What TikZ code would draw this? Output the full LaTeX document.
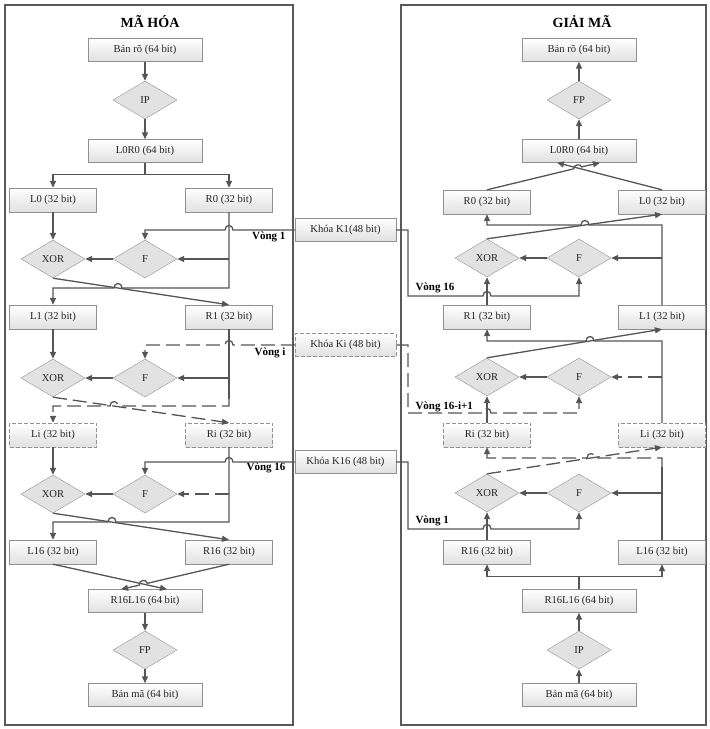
\documentclass[tikz,border=0pt]{standalone}
\usepackage{fontspec}
\setmainfont{Liberation Serif}
\usetikzlibrary{shapes.geometric,arrows.meta}
\definecolor{lncol}{RGB}{85,85,85}
\definecolor{bdcol}{RGB}{145,145,145}
\definecolor{dfill}{RGB}{226,226,226}
\begin{document}
\begin{tikzpicture}[x=1pt,y=-1pt,
    every node/.style={font=\fontsize{10.6}{12}\selectfont,text=black!85},
    box/.style={rectangle,draw=bdcol,top color=white,bottom color=black!12,minimum width=87pt,minimum height=24pt,inner sep=0pt},
    wbox/.style={box,minimum width=114pt,minimum height=23pt},
    kbox/.style={box,minimum width=101pt,minimum height=23pt},
    dbox/.style={dash pattern=on 4pt off 2pt},
    dia/.style={diamond,draw=bdcol,fill=dfill,minimum width=64pt,minimum height=38pt,inner sep=0pt},
    lbl/.style={font=\fontsize{11}{12}\bfseries\selectfont,text=black},
    ttl/.style={font=\fontsize{14}{16}\bfseries\selectfont,text=black},
    arr/.style={draw=lncol,line width=1.3pt,-{Triangle[length=7pt,width=6pt]}},
    ln/.style={draw=lncol,line width=1.3pt},
    dsh/.style={dash pattern=on 14pt off 6pt}]
    \useasboundingbox (0,0) rectangle (710,729);

    \draw[black!65,line width=1.6pt] (5,5) rectangle (293,725);
    \draw[black!65,line width=1.6pt] (401,5) rectangle (706,725);
    \node[ttl] (T1) at (150,22) {MÃ HÓA};
    \node[ttl] (T2) at (582,22) {GIẢI MÃ};

    % ma hoa
    \node[wbox] (P1) at (145,50) {Bản rõ (64 bit)};
    \node[dia] (IP1) at (145,100) {IP};
    \node[wbox] (LR1) at (145,151) {L0R0 (64 bit)};
    \node[box] (L0) at (53,200) {L0 (32 bit)};
    \node[box] (R0) at (229,200) {R0 (32 bit)};
    \node[dia] (X1) at (53,259) {XOR};
    \node[dia] (F1) at (145,259) {F};
    \node[box] (L1) at (53,317) {L1 (32 bit)};
    \node[box] (R1) at (229,317) {R1 (32 bit)};
    \node[dia] (X2) at (53,378) {XOR};
    \node[dia] (F2) at (145,378) {F};
    \node[box,dbox] (Li) at (53,435) {Li (32 bit)};
    \node[box,dbox] (Ri) at (229,435) {Ri (32 bit)};
    \node[dia] (X3) at (53,494) {XOR};
    \node[dia] (F3) at (145,494) {F};
    \node[box] (L16) at (53,552) {L16 (32 bit)};
    \node[box] (R16) at (229,552) {R16 (32 bit)};
    \node[wbox] (RL1) at (145,601) {R16L16 (64 bit)};
    \node[dia] (FP1) at (145,650) {FP};
    \node[wbox] (C1) at (145,695) {Bản mã (64 bit)};

    % khoa
    \node[kbox] (K1) at (345.5,230) {Khóa K1(48 bit)};
    \node[kbox,dbox] (Ki) at (345.5,345) {Khóa Ki (48 bit)};
    \node[kbox] (K16) at (345.5,462) {Khóa K16 (48 bit)};

    % giai ma
    \node[wbox] (P2) at (579,50) {Bản rõ (64 bit)};
    \node[dia] (FP2) at (579,100) {FP};
    \node[wbox] (LR2) at (579,151) {L0R0 (64 bit)};
    \node[box] (R0b) at (487,202) {R0 (32 bit)};
    \node[box] (L0b) at (662,202) {L0 (32 bit)};
    \node[dia] (X4) at (487,258) {XOR};
    \node[dia] (F4) at (579,258) {F};
    \node[box] (R1b) at (487,317) {R1 (32 bit)};
    \node[box] (L1b) at (662,317) {L1 (32 bit)};
    \node[dia] (X5) at (487,377) {XOR};
    \node[dia] (F5) at (579,377) {F};
    \node[box,dbox] (Rib) at (487,435) {Ri (32 bit)};
    \node[box,dbox] (Lib) at (662,435) {Li (32 bit)};
    \node[dia] (X6) at (487,493) {XOR};
    \node[dia] (F6) at (579,493) {F};
    \node[box] (R16b) at (487,552) {R16 (32 bit)};
    \node[box] (L16b) at (662,552) {L16 (32 bit)};
    \node[wbox] (RL2) at (579,601) {R16L16 (64 bit)};
    \node[dia] (IP2) at (579,650) {IP};
    \node[wbox] (C2) at (579,695) {Bản mã (64 bit)};

    \node[lbl,anchor=east] (V1) at (289,237) {Vòng 1};
    \node[lbl,anchor=east] (Vi) at (289,353) {Vòng i};
    \node[lbl,anchor=east] (V16) at (289,468) {Vòng 16};
    \node[lbl,anchor=west] (W16) at (412,288) {Vòng 16};
    \node[lbl,anchor=west] (Wi) at (412,407) {Vòng 16-i+1};
    \node[lbl,anchor=west] (W1) at (412,521) {Vòng 1};

    % left connectors
    \draw[arr] (P1) -- (IP1);
    \draw[arr] (IP1) -- (LR1);
    \draw[arr] (LR1.south) -- ++(0,12) -| (L0.north);
    \draw[arr] (LR1.south) -- ++(0,12) -| (R0.north);
    \draw[arr] (L0) -- (X1);
    \draw[arr] (R0.south) -- (229,288) -- (122,288) .. controls (122,282) and (114,282) .. (114,288) -- (53,288) -- (L1.north);
    \draw[arr] (R0.south |- F1.east) -- (F1.east);
    \draw[arr] (F1) -- (X1);
    \draw[arr] (X1.south) -- (R1.north);
    \draw[arr] (K1.west) -- (233,230) .. controls (233,224) and (225,224) .. (225,230) -- (145,230) -- (F1.north);

    \draw[arr] (L1) -- (X2);
    \draw[ln] (R1.south) -- (229,399);
    \draw[arr,dsh] (229,399) -- (229,406) -- (118,406) .. controls (118,400) and (110,400) .. (110,406) -- (53,406) -- (Li.north);
    \draw[arr] (R1.south |- F2.east) -- (F2.east);
    \draw[arr] (F2) -- (X2);
    \draw[arr,dsh] (X2.south) -- (Ri.north);
    \draw[arr,dsh] (Ki.west) -- (233,345) .. controls (233,339) and (225,339) .. (225,345) -- (145,345) -- (F2.north);

    \draw[arr] (Li) -- (X3);
    \draw[arr] (Ri.south) -- (229,522) -- (116,522) .. controls (116,516) and (108,516) .. (108,522) -- (53,522) -- (L16.north);
    \draw[arr,dsh] (Ri.south |- F3.east) -- (F3.east);
    \draw[arr] (F3) -- (X3);
    \draw[arr] (X3.south) -- (R16.north);
    \draw[arr] (K16.west) -- (233,462) .. controls (233,456) and (225,456) .. (225,462) -- (145,462) -- (F3.north);

    \draw[arr] (L16.south) -- ([xshift=22pt]RL1.north);
    \draw[arr] (R16.south) -- (147.3,583.3) .. controls (146.2,578.4) and (138.4,580.2) .. (139.5,585.1) -- ([xshift=-24pt]RL1.north);
    \draw[arr] (RL1) -- (FP1);
    \draw[arr] (FP1) -- (C1);

    % right connectors
    \draw[arr] (FP2) -- (P2);
    \draw[arr] (LR2) -- (FP2);
    \draw[arr] (R0b.north) -- (573.8,168.8) .. controls (572.9,164.9) and (580.7,163.0) .. (581.6,166.9) -- ([xshift=21pt]LR2.south);
    \draw[arr] (L0b.north) -- ([xshift=-22pt]LR2.south);

    \draw[arr] (L1b.north) -- (662,225) -- (589,225) .. controls (589,219) and (581,219) .. (581,225) -- (487,225) -- (R0b.south);
    \draw[arr] (L1b.north |- F4.east) -- (F4.east);
    \draw[arr] (F4) -- (X4);
    \draw[arr] (X4.north) -- (L0b.south);
    \draw[arr] (R1b) -- (X4);
    \draw[arr] (K1.east) -- (408,230) -- (408,296) -- (483,296) .. controls (483,290) and (491,290) .. (491,296) -| (F4.south);

    \draw[arr] (Lib.north) -- (662,341) -- (594,341) .. controls (594,335) and (586,335) .. (586,341) -- (487,341) -- (R1b.south);
    \draw[arr,dsh] (Lib.north |- F5.east) -- (F5.east);
    \draw[arr] (F5) -- (X5);
    \draw[arr] (X5.north) -- (L1b.south);
    \draw[arr] (Rib) -- (X5);
    \draw[arr,dsh] (Ki.east) -- (408,345) -- (408,413) -- (483,413) .. controls (483,407) and (491,407) .. (491,413) -| (F5.south);

    \draw[ln] (L16b.north) -- (662,467);
    \draw[arr,dsh] (662,467) -- (662,458) -- (595,458) .. controls (595,452) and (587,452) .. (587,458) -- (487,458) -- (Rib.south);
    \draw[arr] (L16b.north |- F6.east) -- (F6.east);
    \draw[arr] (F6) -- (X6);
    \draw[arr,dsh] (X6.north) -- (Lib.south);
    \draw[arr] (R16b) -- (X6);
    \draw[arr] (K16.east) -- (408,462) -- (408,529) -- (483,529) .. controls (483,523) and (491,523) .. (491,529) -| (F6.south);

    \draw[arr] (RL2.north) -- ++(0,-12.5) -| (R16b.south);
    \draw[arr] (RL2.north) -- ++(0,-12.5) -| (L16b.south);
    \draw[arr] (IP2) -- (RL2);
    \draw[arr] (C2) -- (IP2);
\end{tikzpicture}
\end{document}
